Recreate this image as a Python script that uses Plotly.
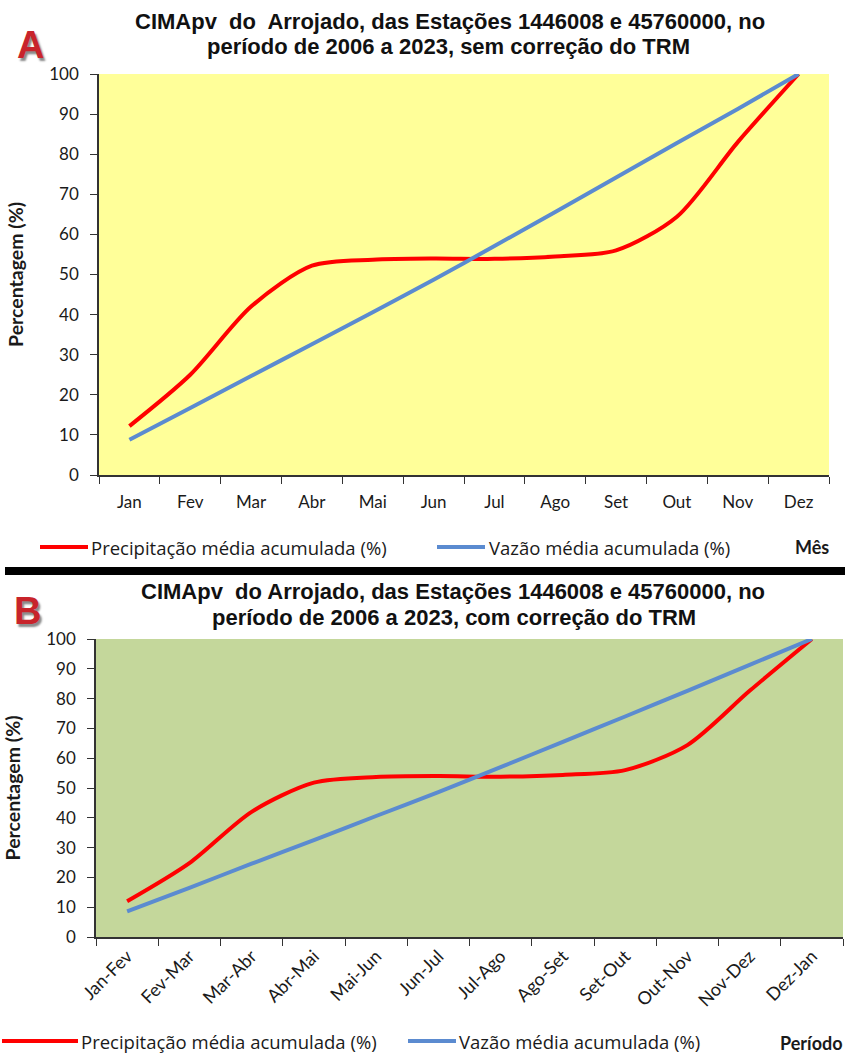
import plotly.graph_objects as go

months = ["Jan", "Fev", "Mar", "Abr", "Mai", "Jun", "Jul", "Ago", "Set", "Out", "Nov", "Dez"]
periods = ["Jan-Fev", "Fev-Mar", "Mar-Abr", "Abr-Mai", "Mai-Jun", "Jun-Jul",
           "Jul-Ago", "Ago-Set", "Set-Out", "Out-Nov", "Nov-Dez", "Dez-Jan"]
precip_a = [12.2, 25.0, 42.0, 52.2, 53.7, 54.0, 53.9, 54.5, 56.0, 64.4, 83.0, 100.0]
vazao_a = [8.8, 16.7, 24.7, 32.6, 40.6, 48.7, 57.1, 65.6, 74.2, 82.8, 91.3, 100.0]
precip_b = [12.0, 24.8, 42.0, 51.8, 53.7, 54.0, 53.8, 54.4, 56.0, 64.4, 82.6, 100.0]
vazao_b = [8.6, 16.5, 24.6, 32.5, 40.6, 48.6, 57.0, 65.5, 74.0, 82.6, 91.3, 100.0]

name_p = "Precipitação média acumulada (%)"
name_v = "Vazão média acumulada (%)"

W, H = 845, 1056
RED = "#FF0000"
BLUE = "#5B8BD0"
TXT = "#1a1a1a"
TICKF = dict(family="Lato, Carlito, Calibri, sans-serif", size=17, color=TXT)
TICKF2 = dict(family="Lato, Carlito, Calibri, sans-serif", size=18, color=TXT)
TITLEF = dict(family="Liberation Sans, Arial, sans-serif", size=22, color="#111")
LEGF = dict(family="Open Sans, Lato, sans-serif", size=18.5, color=TXT)


def px_x(v):
    return v / W


def px_y(v):
    return 1 - v / H


fig = go.Figure()
for xs, p, v, xa, ya in [(months, precip_a, vazao_a, "x", "y"), (periods, precip_b, vazao_b, "x2", "y2")]:
    fig.add_trace(go.Scatter(x=xs, y=p, name=name_p, mode="lines", showlegend=False,
                             line=dict(color=RED, width=4, shape="spline", smoothing=0.8),
                             xaxis=xa, yaxis=ya))
    fig.add_trace(go.Scatter(x=xs, y=v, name=name_v, mode="lines", showlegend=False,
                             line=dict(color=BLUE, width=4, shape="spline", smoothing=0.8),
                             xaxis=xa, yaxis=ya))

axis_common = dict(showline=True, linecolor="#333", linewidth=1.5, ticks="outside",
                   tickcolor="#333", showgrid=False, zeroline=False,
                   automargin=False)
ytitle = dict(text="<b>Percentagem (%)</b>", standoff=20,
              font=dict(family="Lato, Carlito, sans-serif", size=19.5, color=TXT))

fig.update_layout(
    width=W, height=H, margin=dict(l=0, r=0, t=0, b=0),
    paper_bgcolor="white", plot_bgcolor="white", showlegend=False,
    xaxis=dict(domain=[px_x(99), px_x(829)], anchor="y", type="category",
               range=[-0.5, 11.5], tickson="boundaries", ticklen=7, ticklabelstandoff=11,
               tickfont=TICKF, **axis_common),
    yaxis=dict(domain=[px_y(475), px_y(74)], anchor="x", range=[0, 100], dtick=10,
               ticklen=7, ticklabelstandoff=8, title=ytitle, tickfont=TICKF, **axis_common),
    xaxis2=dict(domain=[px_x(96), px_x(843)], anchor="y2", type="category",
                range=[-0.5, 11.5], tickson="boundaries", ticklen=7, tickangle=-45,
                tickfont=TICKF2, **axis_common),
    yaxis2=dict(domain=[px_y(937), px_y(639)], anchor="x2", range=[0, 100], dtick=10,
                ticklen=7, ticklabelstandoff=8, title=ytitle, tickfont=TICKF, **axis_common),
)

shapes = [
    dict(type="rect", xref="paper", yref="paper", x0=px_x(99), x1=px_x(829),
         y0=px_y(475), y1=px_y(74), fillcolor="#FFFF99", line=dict(width=0), layer="below"),
    dict(type="rect", xref="paper", yref="paper", x0=px_x(96), x1=px_x(843),
         y0=px_y(937), y1=px_y(639), fillcolor="#C4D79B", line=dict(width=0), layer="below"),
    dict(type="rect", xref="paper", yref="paper", x0=px_x(5), x1=1,
         y0=px_y(575), y1=px_y(567), fillcolor="black", line=dict(width=0)),
]

ann = []
# titles (one annotation per line to match the tight line spacing)
for txt, cx, cy in [("CIMApv  do  Arrojado, das Estações 1446008 e 45760000, no", 450, 21),
                    ("período de 2006 a 2023, sem correção do TRM", 448, 46),
                    ("CIMApv  do Arrojado, das Estações 1446008 e 45760000, no", 453, 591),
                    ("período de 2006 a 2023, com correção do TRM", 454, 617)]:
    ann.append(dict(text=f"<b>{txt}</b>", x=px_x(cx), y=px_y(cy), xref="paper", yref="paper",
                    xanchor="center", yanchor="middle", showarrow=False, font=TITLEF))
# panel letters
for letter, cx, cy in [("A", 31, 45), ("B", 27, 611)]:
    ann.append(dict(text=f"<b>{letter}</b>", x=px_x(cx), y=px_y(cy), xref="paper", yref="paper",
                    xanchor="center", yanchor="middle", showarrow=False,
                    font=dict(family="Liberation Sans, Arial", size=38, color="#C8242B",
                              shadow="2px 3px 2px #8a8a8a")))

# legends (drawn as line samples + text)
legend_rows = [
    # (y, red line x0, x1, text x, blue x0, x1, text x)
    (547, 40, 88, 89, 437, 485, 487),
    (1041, 2, 78, 79, 408, 456, 457),
]
for ly, r0, r1, rt, b0, b1, bt in legend_rows:
    shapes.append(dict(type="line", xref="paper", yref="paper", x0=px_x(r0), x1=px_x(r1),
                       y0=px_y(ly), y1=px_y(ly), line=dict(color=RED, width=4)))
    shapes.append(dict(type="line", xref="paper", yref="paper", x0=px_x(b0), x1=px_x(b1),
                       y0=px_y(ly), y1=px_y(ly), line=dict(color=BLUE, width=4)))
    ann.append(dict(text=name_p, x=px_x(rt), y=px_y(ly), xref="paper", yref="paper",
                    xanchor="left", yanchor="middle", showarrow=False, font=LEGF))
    ann.append(dict(text=name_v, x=px_x(bt), y=px_y(ly), xref="paper", yref="paper",
                    xanchor="left", yanchor="middle", showarrow=False, font=LEGF))

ann.append(dict(text="<b>Mês</b>", x=px_x(831), y=px_y(547), xref="paper", yref="paper",
                xanchor="right", yanchor="middle", showarrow=False,
                font=dict(family="Lato, Carlito, sans-serif", size=18, color=TXT)))
ann.append(dict(text="<b>Período</b>", x=px_x(845), y=px_y(1043), xref="paper", yref="paper",
                xanchor="right", yanchor="middle", showarrow=False,
                font=dict(family="Lato, Carlito, sans-serif", size=18, color=TXT)))

fig.update_layout(shapes=shapes, annotations=ann)

fig.write_html("out.html", config={"displayModeBar": False},
               post_script="document.body.style.margin='0px';")
